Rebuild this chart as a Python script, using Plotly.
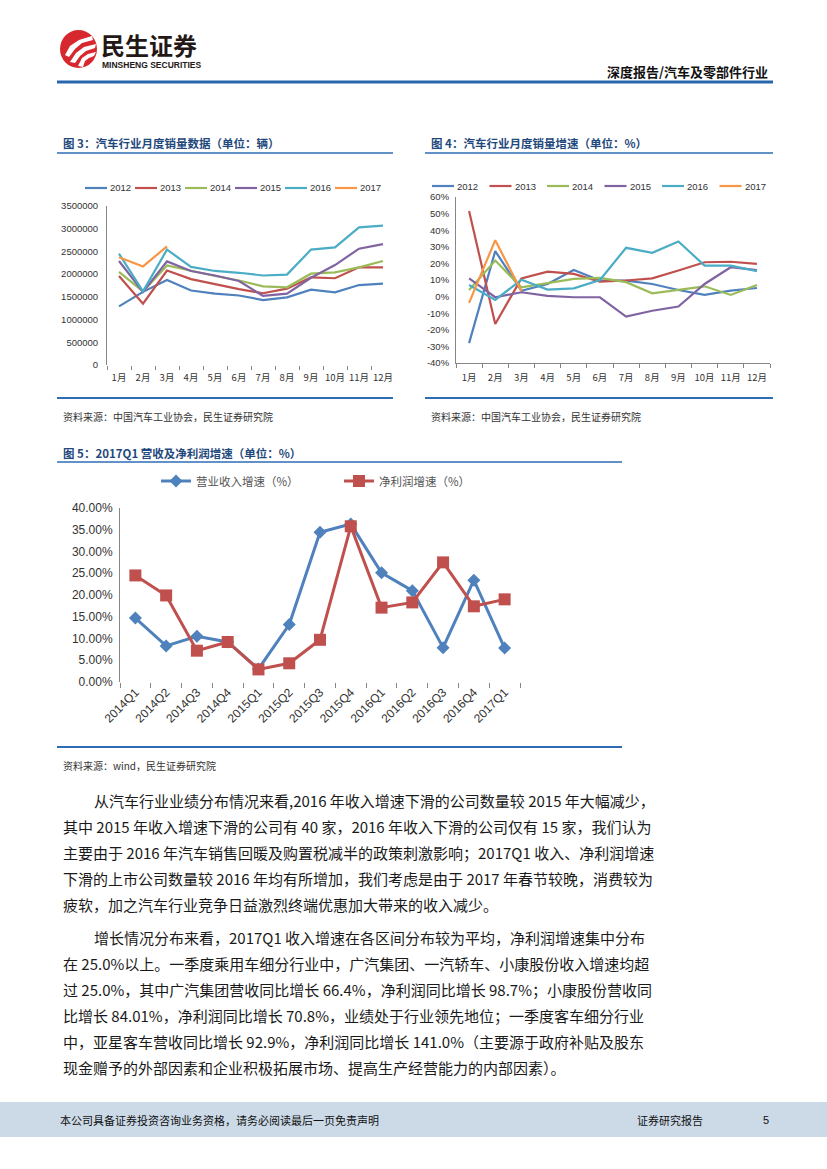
import plotly.graph_objects as go

W, H = 827, 1169
def X(px): return px / W
def Y(py): return 1 - py / H

# ---------------- data ----------------
months = ["1月", "2月", "3月", "4月", "5月", "6月", "7月", "8月", "9月", "10月", "11月", "12月"]
years = ["2012", "2013", "2014", "2015", "2016", "2017"]
year_colors = ["#4F81BD", "#C0504D", "#9BBB59", "#8064A2", "#4BACC6", "#F79646"]

sales_2012 = [1290000, 1610000, 1870000, 1640000, 1570000, 1530000, 1430000, 1490000, 1660000, 1600000, 1760000, 1790000]
sales_2013 = [1960000, 1350000, 2080000, 1890000, 1780000, 1670000, 1580000, 1680000, 1930000, 1910000, 2150000, 2150000]
sales_2014 = [2050000, 1620000, 2190000, 2070000, 1960000, 1860000, 1730000, 1710000, 2010000, 2040000, 2150000, 2290000]
sales_2015 = [2290000, 1610000, 2280000, 2070000, 1970000, 1850000, 1520000, 1570000, 1920000, 2200000, 2560000, 2660000]
sales_2016 = [2450000, 1620000, 2540000, 2160000, 2070000, 2030000, 1970000, 1990000, 2540000, 2590000, 3030000, 3070000]
sales_2017 = [2370000, 2170000, 2610000]
sales = [sales_2012, sales_2013, sales_2014, sales_2015, sales_2016, sales_2017]

growth_2012 = [-28.0, 27.4, 3.5, 7.6, 16.0, 9.7, 9.6, 7.6, 4.0, 1.0, 3.6, 5.2]
growth_2013 = [51.6, -16.5, 11.0, 15.0, 13.7, 9.0, 9.7, 11.0, 15.7, 20.7, 21.0, 19.7]
growth_2014 = [4.0, 21.7, 5.6, 8.0, 10.7, 11.3, 8.7, 2.0, 4.0, 6.2, 1.0, 7.0]
growth_2015 = [11.0, -0.4, 2.6, 0.4, -0.4, -0.4, -12.0, -8.5, -6.0, 7.6, 17.7, 16.0]
growth_2016 = [7.0, -2.0, 10.2, 4.2, 5.0, 10.0, 29.4, 26.4, 33.2, 18.7, 18.7, 15.3]
growth_2017 = [-3.8, 34.0, 3.2]
growth = [growth_2012, growth_2013, growth_2014, growth_2015, growth_2016, growth_2017]

quarters = ["2014Q1", "2014Q2", "2014Q3", "2014Q4", "2015Q1", "2015Q2", "2015Q3", "2015Q4",
            "2016Q1", "2016Q2", "2016Q3", "2016Q4", "2017Q1"]
revenue_growth = [14.7, 8.3, 10.5, 9.2, 3.0, 13.2, 34.4, 36.3, 25.1, 21.0, 7.9, 23.4, 7.8]
profit_growth = [24.5, 19.9, 7.2, 9.2, 2.9, 4.3, 9.7, 35.8, 17.1, 18.3, 27.5, 17.4, 19.0]

sales_ticks = [0, 500000, 1000000, 1500000, 2000000, 2500000, 3000000, 3500000]
growth_ticks = [-40, -30, -20, -10, 0, 10, 20, 30, 40, 50, 60]
profit_ticks = [0, 5, 10, 15, 20, 25, 30, 35, 40]

para1 = [
    "从汽车行业业绩分布情况来看,2016 年收入增速下滑的公司数量较 2015 年大幅减少，",
    "其中 2015 年收入增速下滑的公司有 40 家，2016 年收入下滑的公司仅有 15 家，我们认为",
    "主要由于 2016 年汽车销售回暖及购置税减半的政策刺激影响；2017Q1 收入、净利润增速",
    "下滑的上市公司数量较 2016 年均有所增加，我们考虑是由于 2017 年春节较晚，消费较为",
    "疲软，加之汽车行业竞争日益激烈终端优惠加大带来的收入减少。",
]
para2 = [
    "增长情况分布来看，2017Q1 收入增速在各区间分布较为平均，净利润增速集中分布",
    "在 25.0%以上。一季度乘用车细分行业中，广汽集团、一汽轿车、小康股份收入增速均超",
    "过 25.0%，其中广汽集团营收同比增长 66.4%，净利润同比增长 98.7%；小康股份营收同",
    "比增长 84.01%，净利润同比增长 70.8%，业绩处于行业领先地位；一季度客车细分行业",
    "中，亚星客车营收同比增长 92.9%，净利润同比增长 141.0%（主要源于政府补贴及股东",
    "现金赠予的外部因素和企业积极拓展市场、提高生产经营能力的内部因素）。",
]

# ---------------- figure ----------------
fig = go.Figure()

for name, col, vals in zip(years, year_colors, sales):
    fig.add_trace(go.Scatter(x=months[:len(vals)], y=vals, mode="lines", name=name,
                             line=dict(color=col, width=2.2), showlegend=False,
                             xaxis="x", yaxis="y"))
for name, col, vals in zip(years, year_colors, growth):
    fig.add_trace(go.Scatter(x=months[:len(vals)], y=vals, mode="lines", name=name,
                             line=dict(color=col, width=2.2), showlegend=False,
                             xaxis="x2", yaxis="y2"))

fig.add_trace(go.Scatter(x=quarters, y=revenue_growth, mode="lines+markers", name="营业收入增速（%）",
                         line=dict(color="#4F81BD", width=3),
                         marker=dict(symbol="diamond", size=10, color="#4F81BD"),
                         xaxis="x3", yaxis="y3", legend="legend"))
fig.add_trace(go.Scatter(x=quarters, y=profit_growth, mode="lines+markers", name="净利润增速（%）",
                         line=dict(color="#C0504D", width=3),
                         marker=dict(symbol="square", size=12, color="#C0504D"),
                         xaxis="x3", yaxis="y3", legend="legend2"))

axis_font = dict(family="Liberation Sans, Arial, sans-serif", size=9.5, color="#333333")
cat_font = dict(family="Noto Sans CJK SC, sans-serif", size=9.5, color="#333333")
big_font = dict(family="Liberation Sans, Arial, sans-serif", size=12, color="#333333")

common = dict(showgrid=False, zeroline=False, automargin=False, fixedrange=True)

fig.update_layout(
    width=W, height=H, margin=dict(l=0, r=0, t=0, b=0, autoexpand=False),
    paper_bgcolor="white", plot_bgcolor="rgba(0,0,0,0)",
    xaxis=dict(domain=[X(107), X(395)], anchor="y", type="category", categoryorder="array",
               categoryarray=months, range=[-0.5, 11.5], tickson="boundaries", ticks="outside",
               ticklen=4, tickcolor="#868686", showline=False, tickangle=0, ticklabelstandoff=5,
               tickfont=cat_font, **common),
    yaxis=dict(domain=[Y(365), Y(206)], anchor="x", range=[0, 3500000], tickvals=sales_ticks,
               ticktext=[str(v) for v in sales_ticks], ticklabelstandoff=6,
               showline=True, linecolor="#868686", linewidth=1, ticks="", tickfont=axis_font,
               **common),
    xaxis2=dict(domain=[X(456), X(770)], anchor="y2", type="category", categoryorder="array",
                categoryarray=months, range=[-0.5, 11.5], tickson="boundaries", ticks="outside",
                ticklen=4, tickcolor="#868686", showline=True, linecolor="#868686", tickangle=0,
                ticklabelstandoff=6, tickfont=cat_font, **common),
    yaxis2=dict(domain=[Y(363), Y(197)], anchor="x2", range=[-40, 60], tickvals=growth_ticks,
                ticktext=[f"{v}%" for v in growth_ticks], ticklabelstandoff=4,
                showline=True, linecolor="#868686", ticks="", tickfont=axis_font, **common),
    xaxis3=dict(domain=[X(120), X(520)], anchor="y3", type="category", categoryorder="array",
                categoryarray=quarters, range=[-0.5, 12.5], tickson="boundaries", ticks="outside",
                ticklen=5, tickcolor="#868686", showline=False, tickangle=-45,
                tickfont=big_font, **common),
    yaxis3=dict(domain=[Y(682), Y(508)], anchor="x3", range=[0, 40], tickvals=profit_ticks,
                ticktext=[f"{v:.2f}%" for v in profit_ticks], ticklabelstandoff=4,
                showline=True, linecolor="#868686", ticks="", tickfont=big_font, **common),
    legend=dict(x=X(156), y=Y(481), xanchor="left", yanchor="middle", orientation="h",
                bgcolor="rgba(0,0,0,0)", font=dict(family="Noto Sans CJK SC", size=11.5, color="#555555")),
    legend2=dict(x=X(339), y=Y(481), xanchor="left", yanchor="middle", orientation="h",
                 bgcolor="rgba(0,0,0,0)", font=dict(family="Noto Sans CJK SC", size=11.5, color="#555555")),
)

shapes = []
annots = []

def hline(x0, x1, y, color="#2E6DB4", width=2):
    shapes.append(dict(type="line", xref="paper", yref="paper", x0=X(x0), x1=X(x1),
                       y0=Y(y), y1=Y(y), line=dict(color=color, width=width)))

def text(x, y, s, size=12, color="#000000", xanchor="left", family="Noto Sans CJK SC", bold=False):
    if bold:
        s = "<b>" + s + "</b>"
    annots.append(dict(xref="paper", yref="paper", x=X(x), y=Y(y), text=s, showarrow=False,
                       xanchor=xanchor, yanchor="middle",
                       font=dict(family=family, size=size, color=color)))

def path(points):
    return "M " + " L ".join(f"{X(px):.5f},{Y(py):.5f}" for px, py in points) + " Z"

# ---- header ----
shapes.append(dict(type="circle", xref="paper", yref="paper", x0=X(60), x1=X(97),
                   y0=Y(68), y1=Y(30), fillcolor="#D7282F", line=dict(width=0)))
for pts in [
    [(65, 55), (70, 46), (79, 40), (92, 36), (93, 40), (82, 43), (75, 49), (69, 57)],
    [(70, 62), (76, 53), (84, 47), (96, 44), (95, 48), (86, 51), (80, 56), (75, 63)],
    [(78, 66), (82, 58), (88, 54), (96, 52), (94, 56), (89, 58), (85, 61), (83, 67)],
]:
    shapes.append(dict(type="path", xref="paper", yref="paper", path=path(pts),
                       fillcolor="white", line=dict(width=0)))
text(99, 44, "民生证券", size=24, color="#231815", bold=True)
text(100, 65, "MINSHENG SECURITIES", size=8.5, color="#231815", bold=True,
     family="Liberation Sans Narrow, Liberation Sans, Arial")
text(770, 71, "深度报告/汽车及零部件行业", size=13, color="#111111", xanchor="right", bold=True)
hline(57, 773, 82, color="#2A66AE", width=3)

title_col = "#1F497D"
# ---- chart 3 / 4 titles ----
text(61, 143, "图 3：汽车行业月度销量数据（单位：辆）", size=11.5, color=title_col, bold=True)
hline(57, 393, 153, width=1.6)
text(429, 143, "图 4：汽车行业月度销量增速（单位：%）", size=11.5, color=title_col, bold=True)
hline(425, 773, 153, width=1.6)

# custom legends for chart 3 and 4
for (start, step, ly) in [(85, 50, 188), (432, 57.5, 186)]:
    for i, (name, col) in enumerate(zip(years, year_colors)):
        x0 = start + i * step
        hline(x0, x0 + 22, ly, color=col, width=2.2)
        text(x0 + 23, ly, name, size=9.5, color="#333333",
             family="Liberation Sans, Arial, sans-serif")

hline(57, 393, 398, width=2)
hline(425, 773, 398, width=2)
text(61, 416, "资料来源：中国汽车工业协会，民生证券研究院", size=10, color="#333333")
text(429, 416, "资料来源：中国汽车工业协会，民生证券研究院", size=10, color="#333333")

# ---- chart 5 ----
text(61, 453, "图 5：2017Q1 营收及净利润增速（单位：%）", size=11.5, color=title_col, bold=True)
hline(57, 622, 462, width=1.6)
hline(57, 622, 747, width=2)
text(61, 765, "资料来源：wind，民生证券研究院", size=10, color="#333333")

# ---- body text ----
for i, line in enumerate(para1):
    text(92 if i == 0 else 61, 800 + i * 26, line, size=15, color="#1a1a1a")
for i, line in enumerate(para2):
    text(92 if i == 0 else 61, 937 + i * 26, line, size=15, color="#1a1a1a")

# ---- footer ----
shapes.append(dict(type="rect", xref="paper", yref="paper", x0=0, x1=1, y0=Y(1137), y1=Y(1102),
                   fillcolor="#CCDAE8", line=dict(width=0), layer="below"))
text(58, 1120, "本公司具备证券投资咨询业务资格，请务必阅读最后一页免责声明", size=11, color="#111111")
text(635, 1120, "证券研究报告", size=11, color="#111111")
text(766, 1120, "5", size=11, color="#111111", xanchor="center",
     family="Liberation Sans, Arial, sans-serif")

fig.update_layout(shapes=shapes, annotations=annots)
fig.write_html(
    "out.html",
    config={"displayModeBar": False},
    post_script="document.body.style.margin='0';document.body.style.padding='0';"
                "document.documentElement.style.overflow='hidden';",
)
